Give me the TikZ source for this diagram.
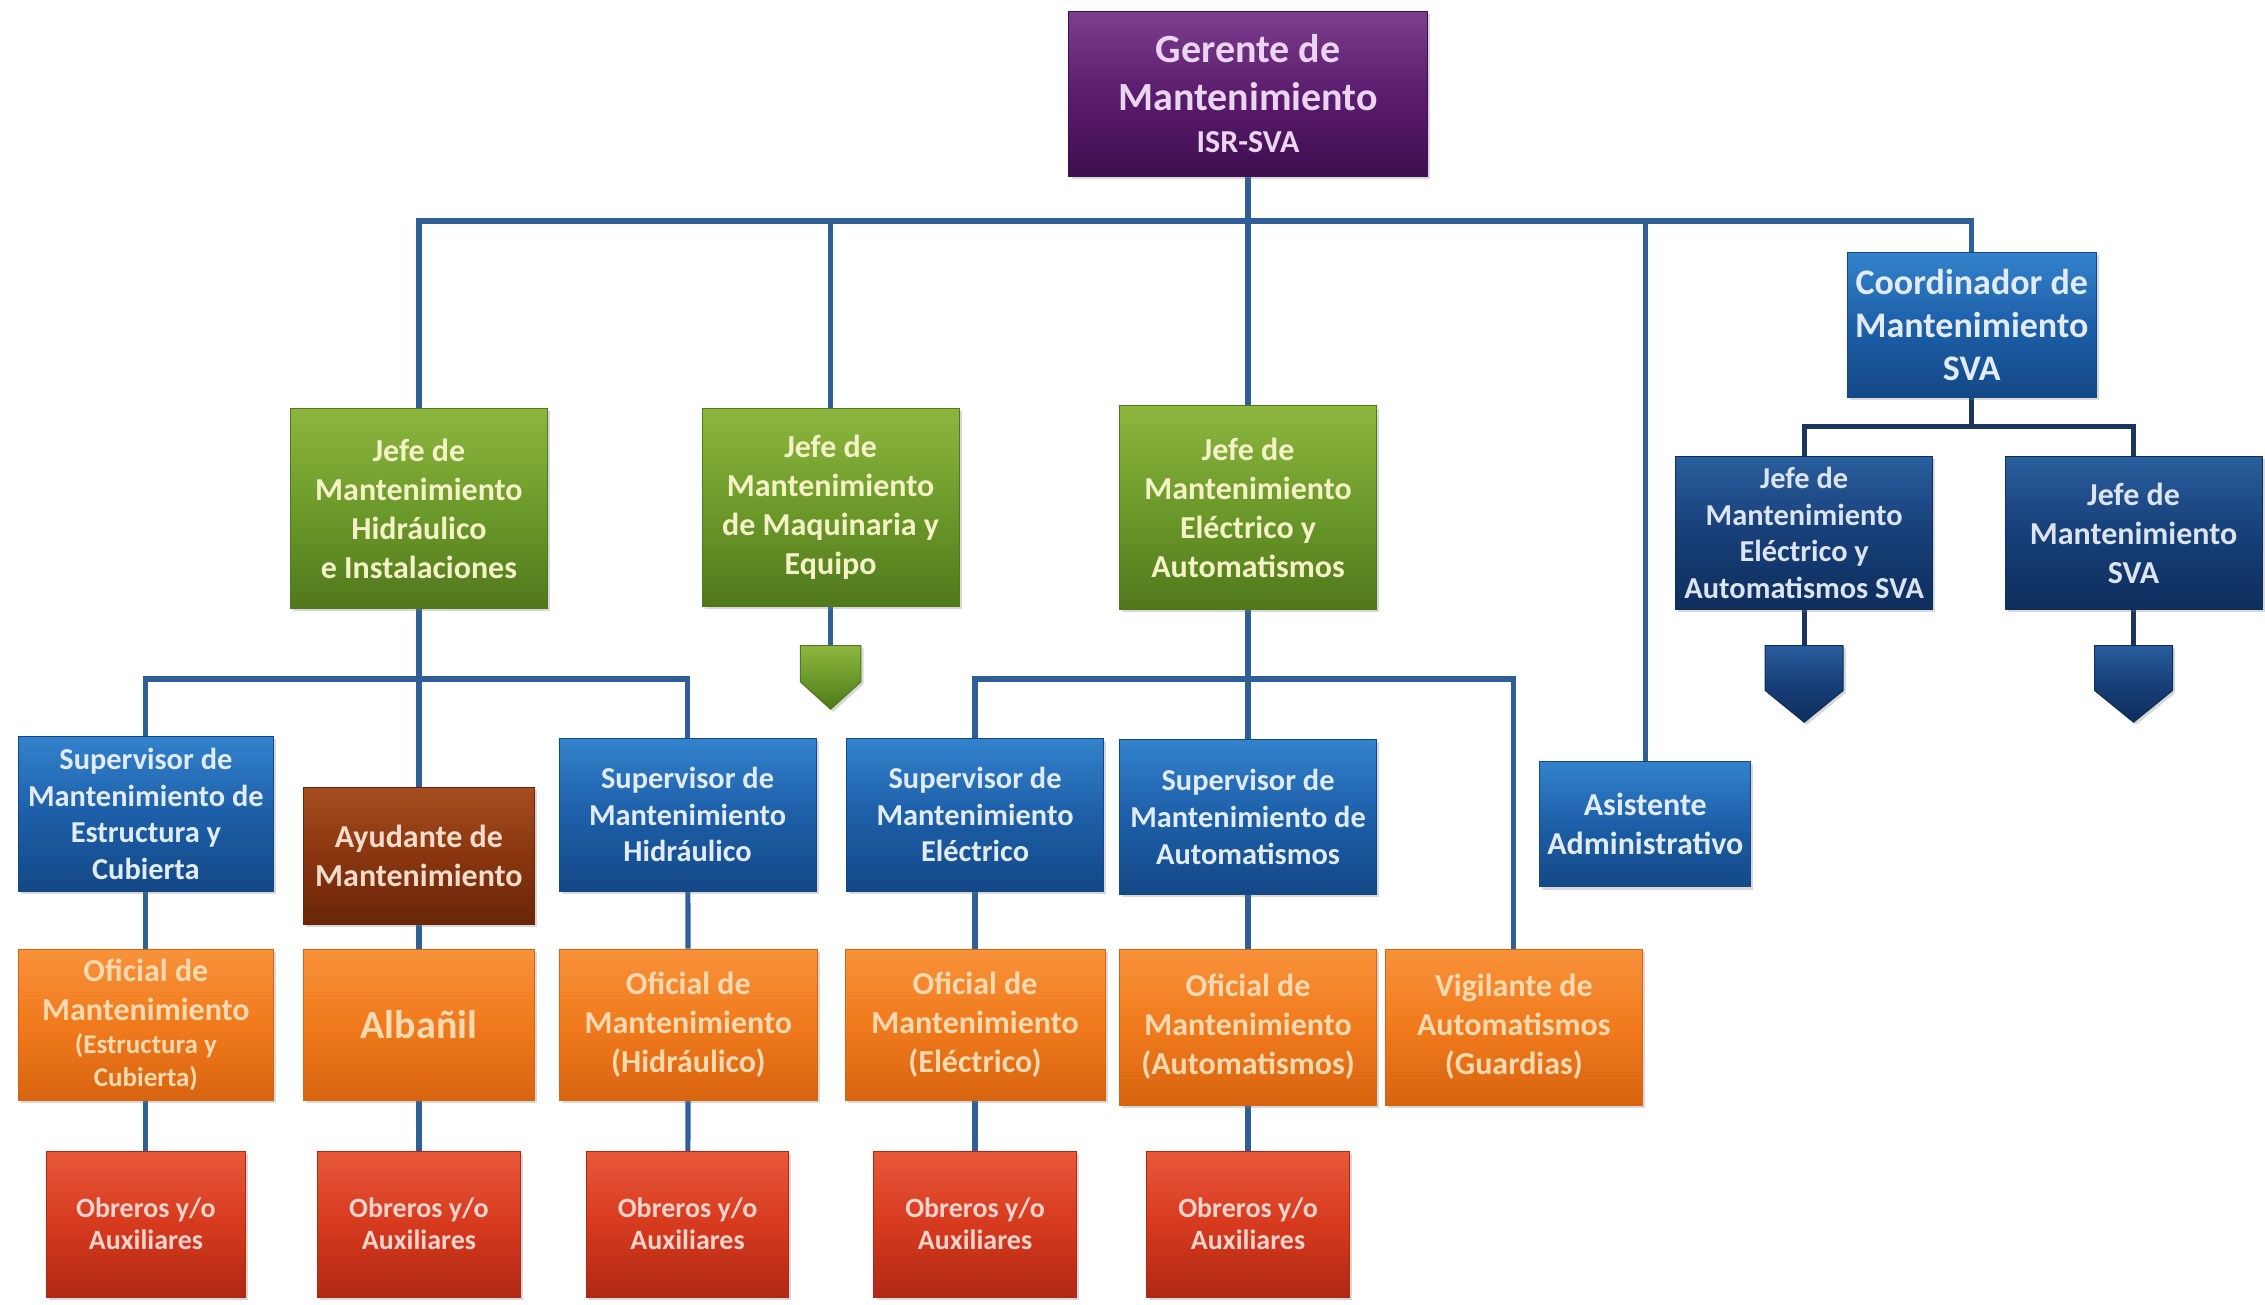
\documentclass[tikz,border=0pt]{standalone}
\usepackage{fontspec}
\setmainfont{Carlito}
\usetikzlibrary{shadows,backgrounds}

\definecolor{purT}{HTML}{7E3E90}\definecolor{purM}{HTML}{5C1C6E}\definecolor{purB}{HTML}{3E0E4E}\definecolor{purX}{HTML}{EBD6F2}
\definecolor{grnT}{HTML}{8CB63E}\definecolor{grnM}{HTML}{6C9A2A}\definecolor{grnB}{HTML}{50781C}\definecolor{grnX}{HTML}{F5F2C8}
\definecolor{bluT}{HTML}{3382CC}\definecolor{bluM}{HTML}{1D5FA8}\definecolor{bluB}{HTML}{134886}\definecolor{bluX}{HTML}{E2ECF8}
\definecolor{dbuT}{HTML}{2A5E9E}\definecolor{dbuM}{HTML}{173F78}\definecolor{dbuB}{HTML}{0E2E5C}\definecolor{dbuX}{HTML}{DCE4F0}
\definecolor{brnT}{HTML}{A64E20}\definecolor{brnM}{HTML}{8A3510}\definecolor{brnB}{HTML}{682608}\definecolor{brnX}{HTML}{F2DCCB}
\definecolor{orgT}{HTML}{F8923A}\definecolor{orgM}{HTML}{F07A1C}\definecolor{orgB}{HTML}{D86410}\definecolor{orgX}{HTML}{FBDAB2}
\definecolor{redT}{HTML}{E8583A}\definecolor{redM}{HTML}{D63A1E}\definecolor{redB}{HTML}{B02814}\definecolor{redX}{HTML}{FAD4CC}
\definecolor{lineC}{HTML}{2E5F96}\definecolor{lineD}{HTML}{1B355C}

\newcommand{\pxu}{0.7222pt}
\newcommand{\obox}[7]{\node[#2, minimum width={(#5-#3)*\pxu}, minimum height={(#6-#4)*\pxu}] (#1) at ({(#3+#5)/2},{(#4+#6)/2}) {#7};}
% pointer: name, style, x centre, y top, width, straight part, tip part
\newcommand{\pointer}[7]{\coordinate (#1) at (#3,#4);
  \path[#2] (#1) ++({-(#5)/2},0) -- ++(#5,0) -- ++(0,#6) -- ++({-(#5)/2},#7) -- ++({-(#5)/2},{-(#7)}) -- cycle;}

\tikzset{
  obox/.style={rectangle, inner sep=0pt, align=center, line width=0.5pt,
    drop shadow={opacity=0.3, shadow xshift=1.3pt, shadow yshift=-1.3pt}},
  purplebox/.style={obox, top color=purT, bottom color=purB, middle color=purM, draw=purB, text=purX},
  greenbox/.style={obox, top color=grnT, bottom color=grnB, middle color=grnM, draw=grnB, text=grnX},
  bluebox/.style={obox, top color=bluT, bottom color=bluB, middle color=bluM, draw=bluB, text=bluX},
  dbluebox/.style={obox, top color=dbuT, bottom color=dbuB, middle color=dbuM, draw=dbuB, text=dbuX},
  brownbox/.style={obox, top color=brnT, bottom color=brnB, middle color=brnM, draw=brnB, text=brnX},
  orangebox/.style={obox, top color=orgT, bottom color=orgB, middle color=orgM, draw=orgB, text=orgX},
  redbox/.style={obox, top color=redT, bottom color=redB, middle color=redM, draw=redB, text=redX},
  fXL/.style={font=\bfseries\fontsize{20}{24}\selectfont},
  fL/.style={font=\bfseries\fontsize{18}{21.5}\selectfont},
  fM/.style={font=\bfseries\fontsize{16}{19.5}\selectfont},
  fS/.style={font=\bfseries\fontsize{15.2}{18.3}\selectfont},
  fXS/.style={font=\bfseries\fontsize{14}{16}\selectfont},
  conn/.style={draw=lineC, line width=2.6pt, line join=miter},
  darkconn/.style={draw=lineD, line width=2.6pt, line join=miter},
  gpointer/.style={top color=grnT, bottom color=grnB, middle color=grnM, draw=grnB, line width=0.5pt,
    drop shadow={opacity=0.3, shadow xshift=1.3pt, shadow yshift=-1.3pt}},
  bpointer/.style={top color=dbuT, bottom color=dbuB, middle color=dbuM, draw=dbuB, line width=0.5pt,
    drop shadow={opacity=0.3, shadow xshift=1.3pt, shadow yshift=-1.3pt}},
}

\begin{document}
\begin{tikzpicture}[x=0.7222pt, y=-0.7222pt]
\useasboundingbox (0,0) rectangle (1568,903);

% level 1
\obox{ger}{purplebox,fXL}{740}{8}{988}{122}{Gerente de\\Mantenimiento\\[-3pt]{\fontsize{16}{18}\selectfont ISR-SVA}}

% level 2
\obox{g1}{greenbox,fM}{201}{283}{379}{421}{Jefe de\\Mantenimiento\\Hidráulico\\e Instalaciones}
\obox{g2}{greenbox,fM}{486}{283}{664}{420}{Jefe de\\Mantenimiento\\de Maquinaria y\\Equipo}
\obox{g3}{greenbox,fM}{775}{281}{953}{422}{Jefe de\\Mantenimiento\\Eléctrico y\\Automatismos}
\obox{coord}{bluebox,fL}{1279}{175}{1451}{275}{Coordinador de\\Mantenimiento\\SVA}
\obox{asis}{bluebox,fM}{1066}{527}{1212}{614}{Asistente\\Administrativo}

% SVA branch
\obox{db1}{dbluebox,fS}{1160}{316}{1338}{422}{Jefe de\\Mantenimiento\\Eléctrico y\\Automatismos SVA}
\obox{db2}{dbluebox,fM}{1388}{316}{1566}{422}{Jefe de\\Mantenimiento\\SVA}

% pointers
\pointer{p2}{gpointer}{575}{447}{42}{25}{19}
\pointer{p3}{bpointer}{1249}{447}{54}{31}{22}
\pointer{p4}{bpointer}{1477}{447}{54}{31}{22}

% level 3
\obox{s1}{bluebox,fS}{13}{510}{189}{617}{Supervisor de\\Mantenimiento de\\Estructura y\\Cubierta}
\obox{ay}{brownbox,fM}{210}{545}{370}{640}{Ayudante de\\Mantenimiento}
\obox{s2}{bluebox,fS}{387}{511}{565}{617}{Supervisor de\\Mantenimiento\\Hidráulico}
\obox{s3}{bluebox,fS}{586}{511}{764}{617}{Supervisor de\\Mantenimiento\\Eléctrico}
\obox{s4}{bluebox,fS}{775}{512}{953}{619}{Supervisor de\\Mantenimiento de\\Automatismos}

% level 4
\obox{o1}{orangebox,fM}{13}{657}{189}{762}{Oficial de\\Mantenimiento\\[-3pt]{\fontsize{13.5}{14.5}\selectfont (Estructura y}\\[-3pt]{\fontsize{13.5}{14.5}\selectfont Cubierta)}}
\obox{o2}{orangebox,fXL}{210}{657}{370}{762}{Albañil}
\obox{o3}{orangebox,fM}{387}{657}{566}{762}{Oficial de\\Mantenimiento\\(Hidráulico)}
\obox{o4}{orangebox,fM}{585}{657}{765}{762}{Oficial de\\Mantenimiento\\(Eléctrico)}
\obox{o5}{orangebox,fM}{775}{657}{953}{765}{Oficial de\\Mantenimiento\\(Automatismos)}
\obox{vig}{orangebox,fM}{959}{657}{1137}{765}{Vigilante de\\Automatismos\\(Guardias)}

% level 5
\obox{r1}{redbox,fXS}{32}{797}{170}{898}{Obreros y/o\\Auxiliares}
\obox{r2}{redbox,fXS}{220}{797}{360}{898}{Obreros y/o\\Auxiliares}
\obox{r3}{redbox,fXS}{406}{797}{546}{898}{Obreros y/o\\Auxiliares}
\obox{r4}{redbox,fXS}{605}{797}{745}{898}{Obreros y/o\\Auxiliares}
\obox{r5}{redbox,fXS}{794}{797}{934}{898}{Obreros y/o\\Auxiliares}

\coordinate (bus) at (0,153);
\coordinate (bus1) at (0,470);
\coordinate (bus2) at (0,470);
\coordinate (bus3) at (0,295);

\begin{scope}[on background layer]
  \fill[white] (0,0) rectangle (1568,903);
  % main bus
  \draw[conn] (ger.south) -- (ger.south |- bus);
  \draw[conn] (g1.north) -- (g1.north |- bus) -- (coord.north |- bus) -- (coord.north);
  \draw[conn] (g2.north) -- (g2.north |- bus);
  \draw[conn] (g3.north) -- (g3.north |- bus);
  \draw[conn] (asis.north) -- (asis.north |- bus);
  % Hidraulico branch
  \draw[conn] (g1.south) -- (g1.south |- bus1);
  \draw[conn] (s1.north) -- (s1.north |- bus1) -- (s2.north |- bus1) -- (s2.north);
  \draw[conn] (ay.north) -- (ay.north |- bus1);
  % Maquinaria
  \draw[conn] (g2.south) -- (p2);
  % Electrico branch
  \draw[conn] (g3.south) -- (g3.south |- bus2);
  \draw[conn] (s3.north) -- (s3.north |- bus2) -- (vig.north |- bus2) -- (vig.north);
  \draw[conn] (s4.north) -- (s4.north |- bus2);
  % SVA branch
  \draw[darkconn] (coord.south) -- (coord.south |- bus3);
  \draw[darkconn] (db1.north) -- (db1.north |- bus3) -- (db2.north |- bus3) -- (db2.north);
  \draw[darkconn] (db1.south) -- (p3);
  \draw[darkconn] (db2.south) -- (p4);
  % verticals
  \draw[conn] (s1) -- (o1);
  \draw[conn] (o1) -- (r1);
  \draw[conn] (ay) -- (o2);
  \draw[conn] (o2) -- (r2);
  \draw[conn] (s2) -- (o3);
  \draw[conn] (o3) -- (r3);
  \draw[conn] (s3) -- (o4);
  \draw[conn] (o4) -- (r4);
  \draw[conn] (s4) -- (o5);
  \draw[conn] (o5) -- (r5);
\end{scope}
\end{tikzpicture}
\end{document}
